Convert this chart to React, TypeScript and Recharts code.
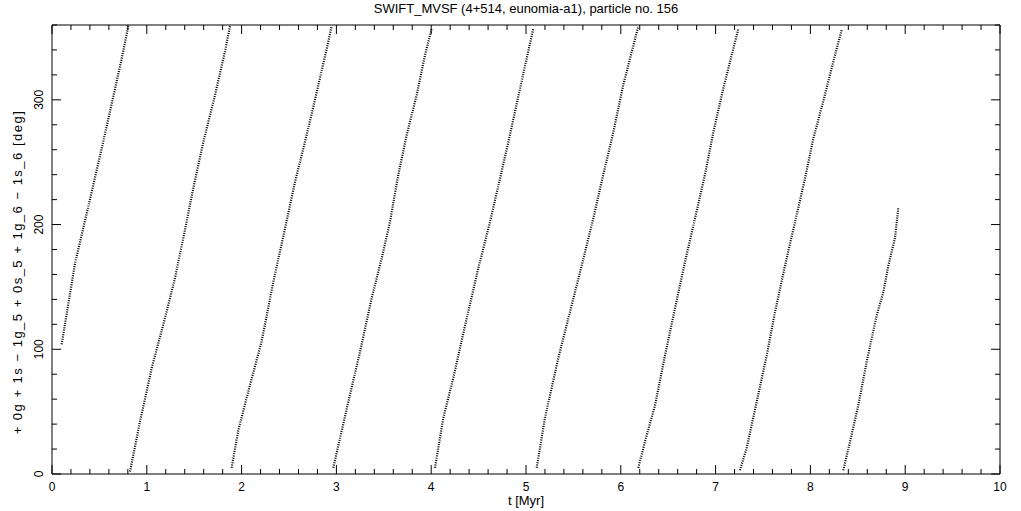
import React from 'react';
import { LineChart, Line, XAxis, YAxis } from 'recharts';

// time [Myr] and angle [deg] read along each circulation branch
const branch1 = [
  { t: 0.102, y: 104 }, { t: 0.243, y: 169 }, { t: 0.4, y: 220 }, { t: 0.524, y: 261 },
  { t: 0.63, y: 297 }, { t: 0.735, y: 333 }, { t: 0.805, y: 359 },
];
const branch2 = [
  { t: 0.823, y: 2 }, { t: 0.928, y: 42 }, { t: 1.052, y: 85 }, { t: 1.192, y: 125 },
  { t: 1.297, y: 157 }, { t: 1.385, y: 189 }, { t: 1.49, y: 229 }, { t: 1.596, y: 266 },
  { t: 1.72, y: 304 }, { t: 1.825, y: 339 }, { t: 1.878, y: 359 },
];
const branch3 = [
  { t: 1.895, y: 5 }, { t: 1.965, y: 35 }, { t: 2.07, y: 66 }, { t: 2.21, y: 106 },
  { t: 2.335, y: 154 }, { t: 2.458, y: 197 }, { t: 2.563, y: 234 }, { t: 2.687, y: 272 },
  { t: 2.792, y: 306 }, { t: 2.898, y: 341 }, { t: 2.95, y: 359 },
];
const branch4 = [
  { t: 2.967, y: 5 }, { t: 3.126, y: 58 }, { t: 3.249, y: 98 }, { t: 3.372, y: 141 },
  { t: 3.478, y: 173 }, { t: 3.565, y: 202 }, { t: 3.653, y: 240 }, { t: 3.742, y: 272 },
  { t: 3.847, y: 304 }, { t: 3.935, y: 336 }, { t: 4.005, y: 357 },
];
const branch5 = [
  { t: 4.04, y: 5 }, { t: 4.128, y: 45 }, { t: 4.233, y: 77 }, { t: 4.357, y: 119 },
  { t: 4.497, y: 165 }, { t: 4.62, y: 202 }, { t: 4.726, y: 237 }, { t: 4.831, y: 272 },
  { t: 4.937, y: 309 }, { t: 5.024, y: 339 }, { t: 5.077, y: 357 },
];
const branch6 = [
  { t: 5.113, y: 5 }, { t: 5.2, y: 45 }, { t: 5.341, y: 93 }, { t: 5.464, y: 130 },
  { t: 5.587, y: 167 }, { t: 5.71, y: 205 }, { t: 5.815, y: 240 }, { t: 5.921, y: 274 },
  { t: 6.026, y: 312 }, { t: 6.097, y: 333 }, { t: 6.185, y: 359 },
];
const branch7 = [
  { t: 6.185, y: 5 }, { t: 6.255, y: 26 }, { t: 6.361, y: 55 }, { t: 6.466, y: 95 },
  { t: 6.572, y: 133 }, { t: 6.677, y: 170 }, { t: 6.783, y: 205 }, { t: 6.888, y: 240 },
  { t: 6.976, y: 274 }, { t: 7.081, y: 309 }, { t: 7.187, y: 341 }, { t: 7.24, y: 357 },
];
const branch8 = [
  { t: 7.257, y: 3 }, { t: 7.328, y: 21 }, { t: 7.434, y: 58 }, { t: 7.539, y: 95 },
  { t: 7.627, y: 130 }, { t: 7.732, y: 167 }, { t: 7.838, y: 202 }, { t: 7.943, y: 237 },
  { t: 8.031, y: 269 }, { t: 8.136, y: 299 }, { t: 8.26, y: 336 }, { t: 8.33, y: 356 },
];
const branch9 = [
  { t: 8.347, y: 3 }, { t: 8.418, y: 26 }, { t: 8.505, y: 55 }, { t: 8.594, y: 90 },
  { t: 8.699, y: 127 }, { t: 8.77, y: 146 }, { t: 8.822, y: 167 }, { t: 8.892, y: 189 },
  { t: 8.927, y: 213 },
];
const branches = [branch1, branch2, branch3, branch4, branch5, branch6, branch7, branch8, branch9];

const xTicks = [
  0, 0.2, 0.4, 0.6, 0.8, 1, 1.2, 1.4, 1.6, 1.8, 2, 2.2, 2.4, 2.6, 2.8, 3, 3.2, 3.4, 3.6, 3.8,
  4, 4.2, 4.4, 4.6, 4.8, 5, 5.2, 5.4, 5.6, 5.8, 6, 6.2, 6.4, 6.6, 6.8, 7, 7.2, 7.4, 7.6, 7.8,
  8, 8.2, 8.4, 8.6, 8.8, 9, 9.2, 9.4, 9.6, 9.8, 10,
];
const yTicks = [0, 20, 40, 60, 80, 100, 120, 140, 160, 180, 200, 220, 240, 260, 280, 300, 320, 340, 360];
const xMajor = [0, 1, 2, 3, 4, 5, 6, 7, 8, 9, 10];
const yMajor = [0, 100, 200, 300];

const title = 'SWIFT_MVSF (4+514, eunomia-a1), particle no. 156';
const xTitle = 't [Myr]';
const yTitle = '+ 0g + 1s \u2212 1g_5 + 0s_5 + 1g_6 \u2212 1s_6 [deg]';

const font = '"Liberation Sans", Arial, sans-serif';
const MAJOR = 9;
const MINOR = 5;

const BottomTick = ({ x, y, payload }: any) => {
  const major = xMajor.includes(payload.value);
  return (
    <g>
      <line x1={x} x2={x} y1={y} y2={y - (major ? MAJOR : MINOR)} stroke="#000" />
      {major && (
        <text x={x} y={y + 17} textAnchor="middle" fontSize={12} fontFamily={font} fill="#000">
          {payload.value}
        </text>
      )}
    </g>
  );
};

const TopTick = ({ x, y, payload }: any) => {
  const major = xMajor.includes(payload.value);
  return <line x1={x} x2={x} y1={y} y2={y + (major ? MAJOR : MINOR)} stroke="#000" />;
};

const LeftTick = ({ x, y, payload }: any) => {
  const major = yMajor.includes(payload.value);
  const bx = x - 9;
  return (
    <g>
      <line x1={x} x2={x + (major ? MAJOR : MINOR)} y1={y} y2={y} stroke="#000" />
      {major && (
        <text
          x={bx}
          y={y}
          transform={`rotate(-90, ${bx}, ${y})`}
          textAnchor="middle"
          fontSize={12}
          fontFamily={font}
          fill="#000"
        >
          {payload.value}
        </text>
      )}
    </g>
  );
};

const RightTick = ({ x, y, payload }: any) => {
  const major = yMajor.includes(payload.value);
  return <line x1={x} x2={x - (major ? MAJOR : MINOR)} y1={y} y2={y} stroke="#000" />;
};

export default function App() {
  return (
    <div style={{ position: 'absolute', left: 0, top: 0, width: 1021, height: 511, background: '#fff' }}>
      <LineChart width={1021} height={511} margin={{ top: 24, right: 20, bottom: 36, left: 0 }}>
        <XAxis
          xAxisId="b"
          dataKey="t"
          type="number"
          domain={[0, 10]}
          ticks={xTicks}
          interval={0}
          height={1}
          tickSize={0}
          tickMargin={0}
          tickLine={false}
          axisLine={{ stroke: '#000' }}
          tick={<BottomTick />}
          allowDataOverflow
        />
        <XAxis
          xAxisId="top"
          orientation="top"
          dataKey="t"
          type="number"
          domain={[0, 10]}
          ticks={xTicks}
          interval={0}
          height={1}
          tickSize={0}
          tickMargin={0}
          tickLine={false}
          axisLine={{ stroke: '#000' }}
          tick={<TopTick />}
          allowDataOverflow
        />
        <YAxis
          yAxisId="l"
          type="number"
          domain={[0, 360]}
          ticks={yTicks}
          interval={0}
          width={52}
          tickSize={0}
          tickMargin={0}
          tickLine={false}
          axisLine={{ stroke: '#000' }}
          tick={<LeftTick />}
          allowDataOverflow
        />
        <YAxis
          yAxisId="right"
          orientation="right"
          type="number"
          domain={[0, 360]}
          ticks={yTicks}
          interval={0}
          width={1}
          tickSize={0}
          tickMargin={0}
          tickLine={false}
          axisLine={{ stroke: '#000' }}
          tick={<RightTick />}
          allowDataOverflow
        />
        {branches.map((b, i) => (
          <Line
            key={i}
            xAxisId="b"
            yAxisId="l"
            data={b}
            dataKey="y"
            type="linear"
            stroke="#000"
            strokeWidth={2.2}
            strokeDasharray="1 1.3"
            dot={false}
            activeDot={false}
            isAnimationActive={false}
          />
        ))}
        <Line
          xAxisId="top"
          yAxisId="right"
          data={branch1}
          dataKey="y"
          stroke="none"
          dot={false}
          activeDot={false}
          isAnimationActive={false}
        />
        <text x={526} y={13} textAnchor="middle" fontSize={13} fontFamily={font} fill="#000">
          {title}
        </text>
        <text x={526} y={505} textAnchor="middle" fontSize={13} fontFamily={font} fill="#000">
          {xTitle}
        </text>
        <text
          x={22}
          y={272}
          transform="rotate(-90, 22, 272)"
          textAnchor="middle"
          fontSize={13}
          letterSpacing={1.5}
          fontFamily={font}
          fill="#000"
        >
          {yTitle}
        </text>
      </LineChart>
    </div>
  );
}
